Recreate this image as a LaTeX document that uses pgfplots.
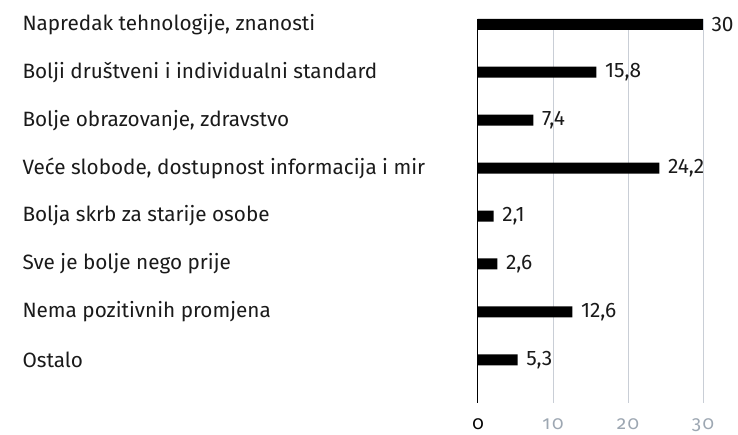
\documentclass[border=0pt]{standalone}
\usepackage{fontspec}
\setmainfont{Fira Sans}
\usepackage{pgfplots}
\pgfplotsset{compat=1.18}
\definecolor{gridgray}{HTML}{C9CED6}
\definecolor{tickgray}{HTML}{9DA7B2}
\definecolor{txt}{HTML}{1A1A1A}

\begin{document}
\begin{tikzpicture}
\begin{axis}[
  name=ax,
  scale only axis,
  width=225bp, height=384bp,
  xbar, bar width=11bp,
  xmin=0, xmax=30,
  ymin=-0.11, ymax=7.9,
  y dir=reverse,
  axis line style={draw=none},
  major tick length=0pt,
  xtick={10,20,30},
  xmajorgrids,
  grid style={gridgray, line width=0.8pt},
  extra x ticks={0},
  extra x tick style={grid style={black, line width=1pt}, xticklabel style={text=black}},
  xticklabel style={text=tickgray, font=\fontsize{19}{22}\selectfont\addfontfeatures{Numbers=OldStyle,LetterSpace=8}, yshift=-12bp},
  /pgf/number format/assume math mode=true,
  ytick={0,...,7},
  yticklabels={
    {Napredak tehnologije, znanosti},
    {Bolji društveni i individualni standard},
    {Bolje obrazovanje, zdravstvo},
    {Veće slobode, dostupnost informacija i mir},
    {Bolja skrb za starije osobe},
    {Sve je bolje nego prije},
    {Nema pozitivnih promjena},
    {Ostalo}},
  yticklabel style={anchor=west, xshift=-459bp, text=txt, font=\fontsize{20.8}{24}\selectfont},
  nodes near coords,
  nodes near coords style={text=txt, font=\fontsize{21}{24}\selectfont, xshift=5bp},
  /pgf/number format/.cd, use comma, fixed, precision=1,
  /tikz/.cd,
  clip=false,
]
\addplot[fill=black, draw=none] coordinates {
  (30,0) (15.8,1) (7.4,2) (24.2,3) (2.1,4) (2.6,5) (12.6,6) (5.3,7)
};
\end{axis}
\path ([xshift=-478bp, yshift=-27bp]ax.south west) rectangle ([xshift=35bp, yshift=19bp]ax.north east);
\end{tikzpicture}
\end{document}
